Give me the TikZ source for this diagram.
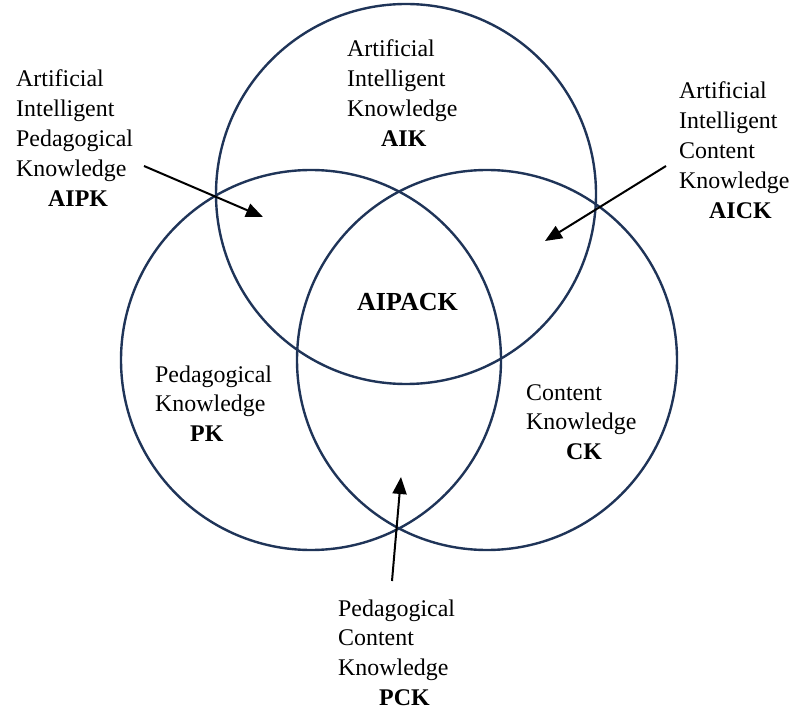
\documentclass[tikz,border=0pt]{standalone}
\usepackage{fontspec}
\setmainfont{Liberation Serif}
\usetikzlibrary{arrows.meta}
\definecolor{navy}{HTML}{1F3458}
\tikzset{
  ring/.style={draw=navy, line width=2.4pt},
  lbl/.style={anchor=base west, inner sep=0pt, font=\fontsize{23.9}{29.8}\selectfont},
  pointer/.style={draw=black, line width=2pt, -{Triangle[length=17pt,width=14pt]}}
}
\newcommand{\lines}[1]{\begin{tabular}[t]{@{}l@{}}#1\end{tabular}}
\begin{document}
\begin{tikzpicture}[x=1pt,y=-1pt]
\useasboundingbox (0,0) rectangle (792,708);
\draw[ring] (406,194) circle[radius=190];
\draw[ring] (311,360) circle[radius=190];
\draw[ring] (487,360) circle[radius=190];

\node[lbl] (aik) at (347,57) {\lines{Artificial\\Intelligent\\Knowledge\\\hspace*{34pt}\textbf{AIK}}};
\node[lbl] (aipk) at (16,87) {\lines{Artificial\\Intelligent\\Pedagogical\\Knowledge\\\hspace*{32pt}\textbf{AIPK}}};
\node[lbl] (aick) at (679,99) {\lines{Artificial\\Intelligent\\Content\\Knowledge\\\hspace*{30pt}\textbf{AICK}}};
\node[lbl] (pk) at (155,382) {\lines{Pedagogical\\Knowledge\\\hspace*{35pt}\textbf{PK}}};
\node[lbl] (ck) at (526,400) {\lines{Content\\Knowledge\\\hspace*{40pt}\textbf{CK}}};
\node[lbl] (pck) at (338,616) {\lines{Pedagogical\\Content\\Knowledge\\\hspace*{41pt}\textbf{PCK}}};
\node[anchor=base west, inner sep=0pt, font=\fontsize{26}{30}\selectfont\bfseries] (aipack) at (357,311) {AIPACK};

\coordinate (s1) at (144,166); \coordinate (t1) at (263,217);
\coordinate (s2) at (666,166); \coordinate (t2) at (545,241);
\coordinate (s3) at (392,581); \coordinate (t3) at (401,477);
\draw[pointer] (s1) -- (t1);
\draw[pointer] (s2) -- (t2);
\draw[pointer] (s3) -- (t3);
\end{tikzpicture}
\end{document}
